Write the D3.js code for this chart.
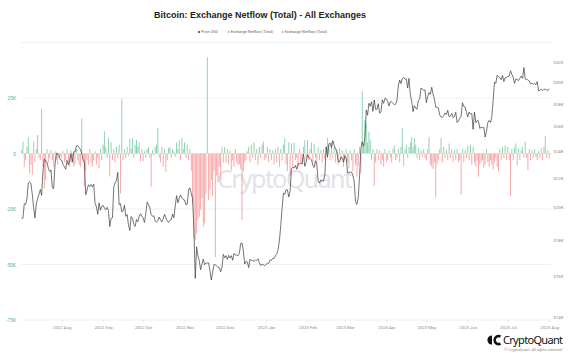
<!DOCTYPE html>
<html>
<head>
<meta charset="utf-8">
<script src="https://cdn.jsdelivr.net/npm/d3@7"></script>
<style>
  body { margin: 0; background: #fff; }
  svg { display: block; font-family: Roboto, "Liberation Sans", Arial, sans-serif; }
</style>
</head>
<body>
<svg id="chart" width="576" height="353"></svg>
<script>
// BTC price, USD thousands, one value a day from 2022-07-02
var priceJul22 = [19.30, 19.30, 20.23, 20.19, 20.55, 21.64, 21.73, 21.59, 20.86, 19.97, 19.32, 20.21, 20.59, 20.84, 21.19, 20.78, 22.49, 23.39, 23.23, 23.16, 22.71, 22.47, 22.58, 21.31, 21.25, 22.95, 23.84, 23.80, 23.66, 23.34]
var priceAug22 = [23.31, 22.98, 22.82, 22.63, 23.29, 22.96, 23.18, 23.81, 23.16, 23.95, 23.93, 24.40, 24.44, 24.31, 24.13, 23.85, 23.34, 23.21, 20.83, 21.14, 21.52, 21.40, 21.53, 21.37, 21.56, 20.26, 20.04, 19.55, 20.29, 19.81, 20.05]
var priceSep22 = [20.13, 19.95, 19.83, 20.00, 19.80, 18.79, 19.29, 19.32, 21.38, 21.65, 21.83, 22.40, 20.17, 20.24, 19.70, 19.78, 20.13, 19.42, 19.54, 18.88, 18.55, 19.41, 19.29, 18.92, 18.80, 19.22, 19.08, 19.41, 19.59, 19.42]
var priceOct22 = [19.31, 19.04, 19.62, 20.34, 20.16, 19.96, 19.53, 19.42, 19.45, 19.13, 19.05, 19.16, 19.38, 19.19, 19.07, 19.26, 19.55, 19.33, 19.13, 19.04, 19.17, 19.21, 19.57, 19.33, 20.08, 20.77, 20.29, 20.60, 20.82, 20.63, 20.50]
var priceNov22 = [20.48, 20.16, 20.21, 21.15, 21.30, 20.91, 20.59, 18.54, 15.88, 17.59, 17.07, 16.81, 16.33, 16.62, 16.90, 16.60, 16.69, 16.69, 16.70, 16.28, 15.79, 16.19, 16.61, 16.60, 16.52, 16.46, 16.44, 16.22, 16.44, 17.17]
var priceDec22 = [16.97, 17.09, 16.89, 17.11, 16.97, 17.09, 16.84, 17.22, 17.13, 17.13, 17.09, 17.21, 17.78, 17.81, 17.36, 16.63, 16.78, 16.74, 16.44, 16.90, 16.82, 16.83, 16.78, 16.84, 16.83, 16.92, 16.71, 16.55, 16.63, 16.60, 16.54]
var priceJan23 = [16.62, 16.67, 16.67, 16.85, 16.83, 16.95, 16.94, 17.09, 17.19, 17.44, 17.94, 18.85, 19.93, 20.95, 20.87, 21.17, 21.16, 20.68, 21.07, 22.67, 22.78, 22.71, 22.92, 22.63, 23.06, 23.01, 23.08, 23.03, 23.77, 22.84, 23.14]
var priceFeb23 = [23.73, 23.49, 23.43, 23.33, 22.94, 22.76, 23.26, 22.96, 21.80, 21.63, 21.86, 21.79, 21.79, 22.20, 24.33, 23.52, 24.57, 24.63, 24.28, 24.84, 24.44, 24.19, 23.95, 23.20, 23.17, 23.55, 23.49, 23.15]
var priceMar23 = [23.65, 23.47, 22.36, 22.35, 22.43, 22.41, 22.20, 21.71, 20.36, 20.19, 20.63, 22.16, 24.20, 24.75, 24.38, 25.05, 27.42, 26.97, 28.04, 27.77, 28.17, 27.31, 28.33, 27.49, 27.49, 27.99, 27.14, 27.27, 28.35, 28.03, 28.48]
var priceApr23 = [28.45, 28.20, 27.79, 28.17, 28.17, 28.03, 27.91, 27.95, 28.33, 29.65, 30.24, 29.89, 30.40, 30.49, 30.32, 30.32, 29.45, 30.40, 28.82, 28.25, 27.28, 27.82, 27.59, 27.51, 28.31, 28.42, 29.47, 29.34, 29.25, 29.27]
var priceMay23 = [28.09, 28.68, 29.03, 28.85, 29.53, 28.90, 28.45, 27.69, 27.66, 27.62, 27.00, 26.80, 26.78, 26.93, 27.17, 27.03, 27.40, 26.83, 26.89, 27.12, 26.75, 26.85, 27.23, 26.33, 26.47, 26.72, 26.87, 28.08, 27.75, 27.70, 27.22]
var priceJun23 = [26.82, 27.25, 27.07, 27.12, 25.76, 27.24, 26.34, 26.50, 26.48, 25.84, 25.94, 25.90, 25.92, 25.12, 25.58, 26.33, 26.51, 26.34, 26.84, 28.31, 30.03, 29.91, 30.70, 30.55, 30.47, 30.27, 30.70, 30.08, 30.45, 30.48]
var priceJul23 = [30.59, 30.62, 31.16, 30.77, 30.51, 29.91, 30.35, 30.29, 30.17, 30.41, 30.62, 30.39, 31.48, 30.32, 30.29, 30.25, 30.14, 29.86, 29.92, 29.80, 29.91, 29.79, 30.08, 29.18, 29.23, 29.35, 29.22, 29.32, 29.35, 29.28, 29.23]
var priceAug23 = [29.40]

// exchange netflow, thousands of BTC, same days
var flowJul22 = [1.5, 5.3, -6, -3, 3, 7.3, -9, -5, -9.7, 5.3, -4, 2, 8.3, -2, -3, 20, -6, -15.7, -12, 2, -4, -2, 1.5, -3, -6, 1, -3, -5, -2, -1]
var flowAug22 = [-2, 1, -4, -3, 2, -5, -6, 1.5, -4, -6, -5, 2, -3, -5, -6, 15.8, -4, -15, -8, -3, -5, 2, -4, -6, -3, 1, -5, -2, -6.6, 2, -3]
var flowSep22 = [4, 10, 3, -2, 7, -10.4, 5, -3, 2, -4, 3, -2, 4, -18, 24.4, -3, 2, -2, 3, -1, 6.5, 2, 7, -2, 4, 6, 3, 5, -3.7, 2]
var flowOct22 = [-3.5, 1, -2, 2, 3, -2, -15, 1.5, -1, 3, 4, 11.3, -2, -4, 3, -6, 2, -8.2, -3, 2.5, 3, -2, 2, 1, -1.5, 5, 2, 6, -3, 7, 2]
var flowNov22 = [5, -2, 4, -3, 2, -8, -22.4, -38.2, -39, -36, -30, -28.5, -25.5, -20, -33, -31.5, -18, 43.3, -21, -16.4, -12, -19, -8, -46.6, -10, -13, -6, -12, 3, -4]
var flowDec22 = [3, -4, 2, -5, 1.5, -7.4, -3, -6, 2, -4, -5, -5, -7, -30, -8, -4, -3, 1, 3, -4, 4, -2, 5, -3, 2, -5, 3, -2, 4, 5.3, -3]
var flowJan23 = [-2, 3, -4, 2, -3, 1.5, -5, 2, -4, 3, -6, 2, -3, 4, 6.8, -5, -8, 5, -10, 4.5, -6, 5, -3, -2, -6, 2, -4, -5, 3, 6, -3]
var flowFeb23 = [6, -3, 2, 5, -4, 4.5, -2, -5, 3, -3, 1.5, -4, 2, -2.5, 3, 7, 4, -3, 5, -2, 3, -4, 2, -5, 2.5, -3, 1.5, -6]
var flowMar23 = [-3, 2, -4, -6.6, 1.5, -3, -8, 2, -5, -10.4, -5.5, 3, -9, 28, 3, 15, 13.5, 5, 9.8, 6, -3, 2, -14.6, -4, 2, -3, 1.5, -5, -3, -6, 2]
var flowApr23 = [-4, -3, 1.5, -2, -4, 2, 3.5, -3, -2, 2, -4, 3, 11.3, -5.6, 2, 4, -2, 3, 5, 7.5, 3, 7, 4, -2, 2.5, -3, 1.5, -1.5, 2, -2]
var flowMay23 = [-3, 2, 7.5, -5, -6, -7, -4, -19.7, -5, -3, 2, 7, -4, 3, -2, 1.5, -3, 4.5, -2, 2, -4, 1.5, -3, 2, -4, -3, -18.7, 2, -4, 1.5, -2]
var flowJun23 = [3.5, -3, 4, -5, 3, -4, -6, -3, -10.4, -5, -4, -3, -6.6, -5, 2, -4, -6, -3, -5, -7, -4, -2, -6, -8, 2, -3, 3, -2, 3.5, -3]
var flowJul23 = [3, -3, -19.1, 2, -3, 2.5, 4.5, -5.3, 2, -3, 1.5, 3, -2, 5.3, -2, -7.4, 2, -3, 1.5, -2, 2, -1.5, -3, 1, -2, 2.5, -3, 3, 7.8, -2, 1.5]
var flowAug23 = [-2.5]

var flowTicks = [-75, -50, -25, 0, 25]
var gridTicks = [-75, -50, -25, 0, 25, 50]
var priceTicks = [14, 16, 18, 20, 22, 24, 26, 28, 30, 32]
var monthTicks = ["2022-08-01", "2022-09-01", "2022-10-01", "2022-11-01", "2022-12-01", "2023-01-01",
                  "2023-02-01", "2023-03-01", "2023-04-01", "2023-05-01", "2023-06-01", "2023-07-01", "2023-08-01"]
var legendItems = [["Price USD", "#222"], ["Exchange Netflow (Total)", "#6cc59a"], ["Exchange Netflow (Total)", "#f08c8c"]]

var price = [].concat(priceJul22, priceAug22, priceSep22, priceOct22, priceNov22, priceDec22, priceJan23,
                      priceFeb23, priceMar23, priceApr23, priceMay23, priceJun23, priceJul23, priceAug23)
var flow = [].concat(flowJul22, flowAug22, flowSep22, flowOct22, flowNov22, flowDec22, flowJan23,
                     flowFeb23, flowMar23, flowApr23, flowMay23, flowJun23, flowJul23, flowAug23)

var start = new Date(Date.UTC(2022, 6, 2)), end = new Date(Date.UTC(2023, 7, 2))
var days = d3.utcDay.range(start, end)
var rows = days.map(function(d, i) { return {date: d, price: price[i], flow: flow[i]} })

var svg = d3.select("#chart")
var x = d3.scaleUtc().domain([start, end]).range([21.6, 550.6])
var yFlow = d3.scaleLinear().domain([-75, 50]).range([320, 42.5])
var yPrice = d3.scaleLog().domain([13.87, 34.15]).range([320, 42.5])

// title + legend
svg.append("text").attr("x", 260).attr("y", 18).attr("text-anchor", "middle")
    .attr("font-family", "Liberation Sans, Arial, sans-serif")
    .attr("font-size", 9).attr("font-weight", "bold").attr("fill", "#222")
    .text("Bitcoin: Exchange Netflow (Total) - All Exchanges")

var legendX = [199, 228.7, 282.7]
var lg = svg.append("g").selectAll("g").data(legendItems).enter().append("g")
    .attr("transform", function(d, i) { return "translate(" + legendX[i] + ",32)" })
lg.append("circle").attr("r", 0.9).attr("fill", function(d) { return d[1] })
lg.append("text").attr("x", 2).attr("y", 1.4).attr("font-size", 3.8).attr("fill", "#666")
    .text(function(d) { return d[0] })

// grid
svg.append("g").selectAll("line").data(gridTicks).enter().append("line")
    .attr("x1", 21.6).attr("x2", 551)
    .attr("y1", function(d) { return yFlow(d) }).attr("y2", function(d) { return yFlow(d) })
    .attr("stroke", "#ececec").attr("stroke-width", 0.8)

// watermark
svg.append("text").attr("x", 217).attr("y", 188).attr("textLength", 136)
    .attr("font-family", "Noto Sans, sans-serif").attr("font-size", 25)
    .attr("fill", "#e2e2e9").text("CryptoQuant")

// bars
var barW = 1.0
svg.append("g").selectAll("rect").data(rows).enter().append("rect")
    .attr("x", function(d) { return x(d.date) - barW / 2 })
    .attr("width", barW)
    .attr("y", function(d) { return d.flow > 0 ? yFlow(d.flow) : yFlow(0) })
    .attr("height", function(d) { return Math.abs(yFlow(d.flow) - yFlow(0)) })
    .attr("fill", function(d) { return d.flow > 0 ? "#8fd3b2" : "#f5a9a9" })

// price line
var line = d3.line().x(function(d) { return x(d.date) }).y(function(d) { return yPrice(d.price) })
svg.append("path").datum(rows).attr("d", line)
    .attr("fill", "none").attr("stroke", "#3a3a3a").attr("stroke-width", 0.7)

// axes
var left = svg.append("g").attr("transform", "translate(19,0)")
    .call(d3.axisLeft(yFlow).tickValues(flowTicks).tickSize(0).tickPadding(3)
        .tickFormat(function(d) { return d == 0 ? "0" : d + "K" }))
left.select(".domain").remove()
left.selectAll("text").attr("font-size", 4.8).attr("fill", "#4fb585").attr("font-family", "Roboto, sans-serif")

var right = svg.append("g").attr("transform", "translate(551,0)")
    .call(d3.axisRight(yPrice).tickValues(priceTicks).tickSize(0).tickPadding(2.5)
        .tickFormat(function(d) { return "$" + d + "K" }))
right.select(".domain").remove()
right.selectAll("text").attr("font-size", 4.3).attr("fill", "#8a8a8a").attr("font-family", "Roboto, sans-serif")

var bottom = svg.append("g").attr("transform", "translate(0,320)")
    .call(d3.axisBottom(x).tickValues(monthTicks.map(function(s) { return new Date(s + "T00:00:00Z") }))
        .tickSize(2).tickPadding(4).tickFormat(d3.utcFormat("%Y %b")))
bottom.select(".domain").remove()
bottom.selectAll("line").attr("stroke", "#cfcfcf").attr("stroke-width", 0.5)
bottom.selectAll("text").attr("font-size", 4.3).attr("fill", "#8a8a8a").attr("font-family", "Roboto, sans-serif")

// logo
var logo = svg.append("g")
logo.append("path").attr("d", "M492,335.5 A4.6,4.6 0 0 0 492,344.7 Z").attr("fill", "#111")
logo.append("path").attr("d", "M500.5,336.6 A4,4 0 1 0 500.5,343.6").attr("fill", "none")
    .attr("stroke", "#111").attr("stroke-width", 2.6)
logo.append("text").attr("x", 503).attr("y", 344).attr("textLength", 60)
    .attr("font-family", "Noto Sans, sans-serif").attr("font-size", 11).attr("fill", "#111").text("CryptoQuant")
svg.append("text").attr("x", 563).attr("y", 351).attr("text-anchor", "end")
    .attr("font-size", 3.8).attr("fill", "#888").text("\u00a9 CryptoQuant. All rights reserved.")
</script>
</body>
</html>
